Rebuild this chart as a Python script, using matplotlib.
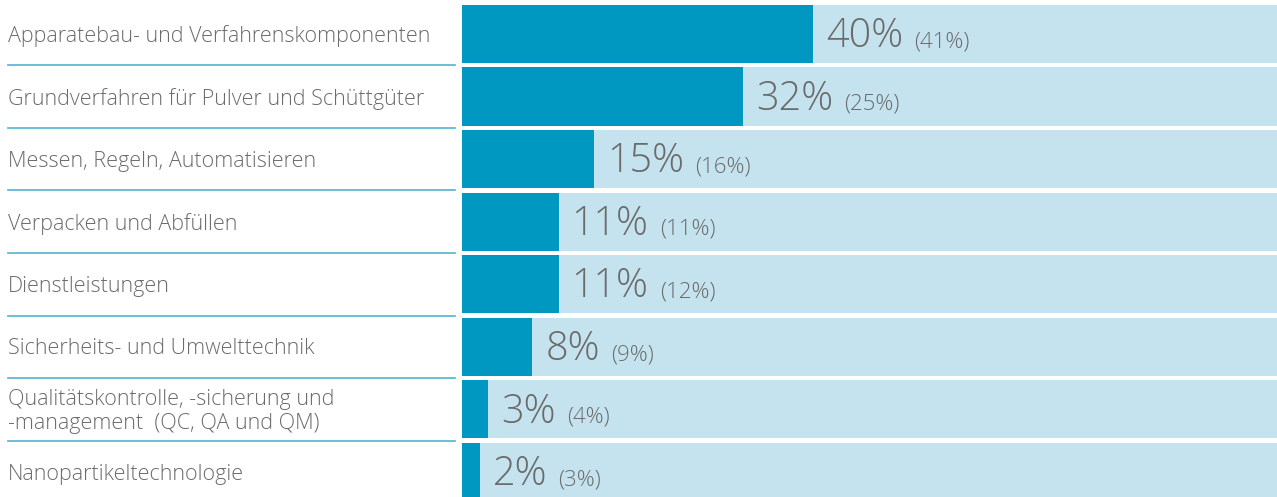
import matplotlib
matplotlib.use("Agg")
import matplotlib.pyplot as plt
from matplotlib.transforms import blended_transform_factory

categories = [
    "Apparatebau- und Verfahrenskomponenten",
    "Grundverfahren für Pulver und Schüttgüter",
    "Messen, Regeln, Automatisieren",
    "Verpacken und Abfüllen",
    "Dienstleistungen",
    "Sicherheits- und Umwelttechnik",
    "Qualitätskontrolle, -sicherung und\n-management  (QC, QA und QM)",
    "Nanopartikeltechnologie",
]
values = [40, 32, 15, 11, 11, 8, 3, 2]
previous = [41, 25, 16, 11, 12, 9, 4, 3]

DARK = "#0098c0"
LIGHT = "#c5e3ee"
TEXT = "#6b6b6b"
LINE = "#4fb4d0"


def main():
    plt.rcParams['font.family'] = ['Open Sans', 'DejaVu Sans']

    fig = plt.figure(figsize=(12.77, 4.97), dpi=100)
    W, H = 1277, 497
    ax = fig.add_axes([462 / W, 0, 1 - 462 / W, 1])

    rows = list(range(len(categories)))
    full = 100
    ax.barh(rows, [full] * len(rows), height=0.93, color=LIGHT, linewidth=0)
    ax.barh(rows, values, height=0.93, color=DARK, linewidth=0)

    ax.set_xlim(0, 92.9)
    ax.set_ylim(7.40, -0.543)
    ax.axis("off")

    for r, v, p in zip(rows, values, previous):
        big = ax.annotate(f"{v}%", xy=(v, r), xycoords="data",
                          xytext=(9.5, -9.5), textcoords="offset points",
                          fontsize=28.5, color=TEXT, va="baseline", ha="left",
                          fontweight="light")
        ax.annotate(f"({p}%)", xy=(1, r), xycoords=(big, "data"),
                    xytext=(8, -9.5), textcoords="offset points",
                    fontsize=16, color=TEXT, va="baseline", ha="left",
                    fontweight="light")

    # category labels and separators on the left side
    blend = blended_transform_factory(fig.transFigure, ax.transData)
    for r, name in zip(rows, categories):
        ax.annotate(name, xy=(8 / W, r), xycoords=blend,
                    xytext=(0, -1.5), textcoords="offset points",
                    ha="left", va="center", fontsize=15.5, color=TEXT,
                    fontweight="light", linespacing=1.2,
                    annotation_clip=False)
        if r < len(rows) - 1:
            ax.plot([8 / W, 455 / W], [r + 0.5, r + 0.5], transform=blend,
                    color=LINE, linewidth=1.2, clip_on=False)

    fig.savefig("out.png", dpi=100, facecolor="white")


if __name__ == "__main__":
    main()
